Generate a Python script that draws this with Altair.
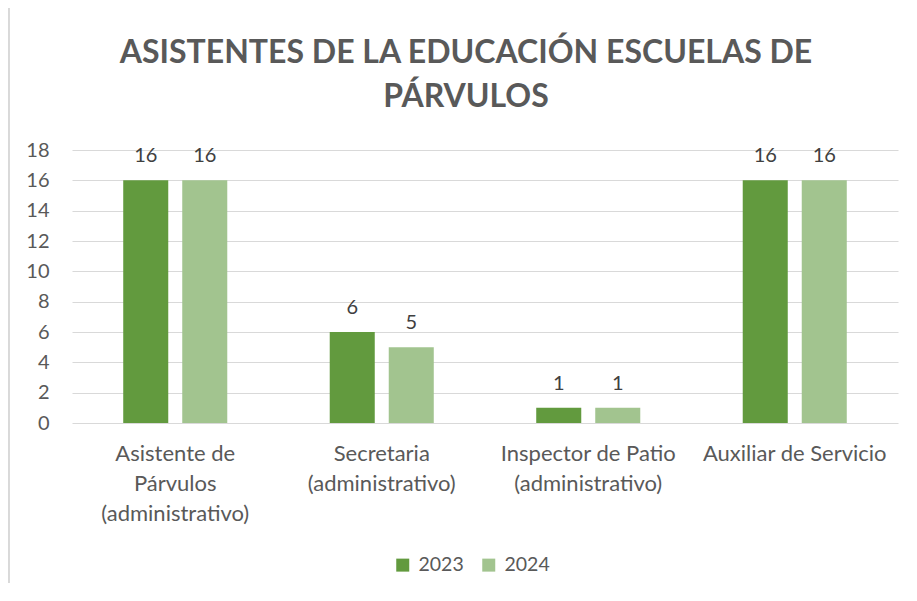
import altair as alt
import pandas as pd

categories = [
    "Asistente de\nPárvulos\n(administrativo)",
    "Secretaria\n(administrativo)",
    "Inspector de Patio\n(administrativo)",
    "Auxiliar de Servicio",
]
years = ["2023", "2024"]
values_2023 = [16, 6, 1, 16]
values_2024 = [16, 5, 1, 16]
y_ticks = [0, 2, 4, 6, 8, 10, 12, 14, 16, 18]
colors = ["#629A3E", "#A2C48F"]
title_lines = ["ASISTENTES DE LA EDUCACIÓN ESCUELAS DE", "PÁRVULOS"]

rows = []
for c, v in zip(categories, values_2023):
    rows.append({"categoria": c, "anio": "2023", "valor": v})
for c, v in zip(categories, values_2024):
    rows.append({"categoria": c, "anio": "2024", "valor": v})
df = pd.DataFrame(rows)

FONT = "Lato"
TXT = "#595959"

x_enc = alt.X(
    "categoria:N",
    sort=categories,
    scale=alt.Scale(paddingInner=0, paddingOuter=0),
    axis=alt.Axis(
        title=None,
        labelAngle=0,
        labelExpr="split(datum.label, '\\n')",
        labelFont=FONT,
        labelFontSize=22,
        labelLineHeight=30,
        labelColor=TXT,
        labelPadding=20,
        labelLimit=0,
        domain=False,
        ticks=False,
        grid=False,
    ),
)
xoff = alt.XOffset("anio:N", sort=years, scale=alt.Scale(paddingInner=0.237, paddingOuter=0.868))
y_enc = alt.Y(
    "valor:Q",
    scale=alt.Scale(domain=[0, 18], nice=False, zero=True),
    axis=alt.Axis(
        title=None,
        values=y_ticks,
        tickCount=20,
        domain=False,
        ticks=False,
        gridColor="#D9D9D9",
        gridWidth=1,
        labelFont=FONT,
        labelFontSize=20,
        labelColor=TXT,
        labelPadding=23,
        labelOverlap=False,
        labelFlush=False,
    ),
)

bars = alt.Chart(df).mark_bar().encode(
    x=x_enc,
    xOffset=xoff,
    y=y_enc,
    color=alt.Color(
        "anio:N",
        scale=alt.Scale(domain=years, range=colors),
        legend=alt.Legend(
            title=None,
            orient="none",
            direction="horizontal",
            legendX=321,
            legendY=405,
            symbolType="square",
            symbolSize=169,
            symbolStrokeWidth=0,
            labelFont=FONT,
            labelFontSize=19.5,
            labelColor=TXT,
            labelOffset=6,
            columnPadding=15,
        ),
    ),
)

labels = alt.Chart(df).mark_text(
    dy=-18, baseline="alphabetic", font=FONT, fontSize=20, color="#404040"
).encode(
    x=x_enc,
    xOffset=xoff,
    y=y_enc,
    text=alt.Text("valor:Q"),
)

border = alt.Chart(df).mark_rule(color="#D9D9D9", strokeWidth=1, clip=False).encode(
    x=alt.value(-63), y=alt.value(-150), y2=alt.value(460)
)

chart = (
    alt.layer(border, bars, labels)
    .properties(
        width=826,
        height=273,
        autosize=alt.AutoSizeParams(type="none"),
        padding={"left": 64, "top": 142, "right": 8, "bottom": 160},
        title=alt.Title(
            title_lines,
            font=FONT,
            fontSize=32,
            fontWeight="bold",
            color=TXT,
            lineHeight=44,
            anchor="middle",
            dx=-19,
            dy=114,
            offset=0,
        ),
    )
    .configure(background="white")
    .configure_view(strokeWidth=0)
)

chart.save("out.html", embed_options={"renderer": "svg", "actions": False})
